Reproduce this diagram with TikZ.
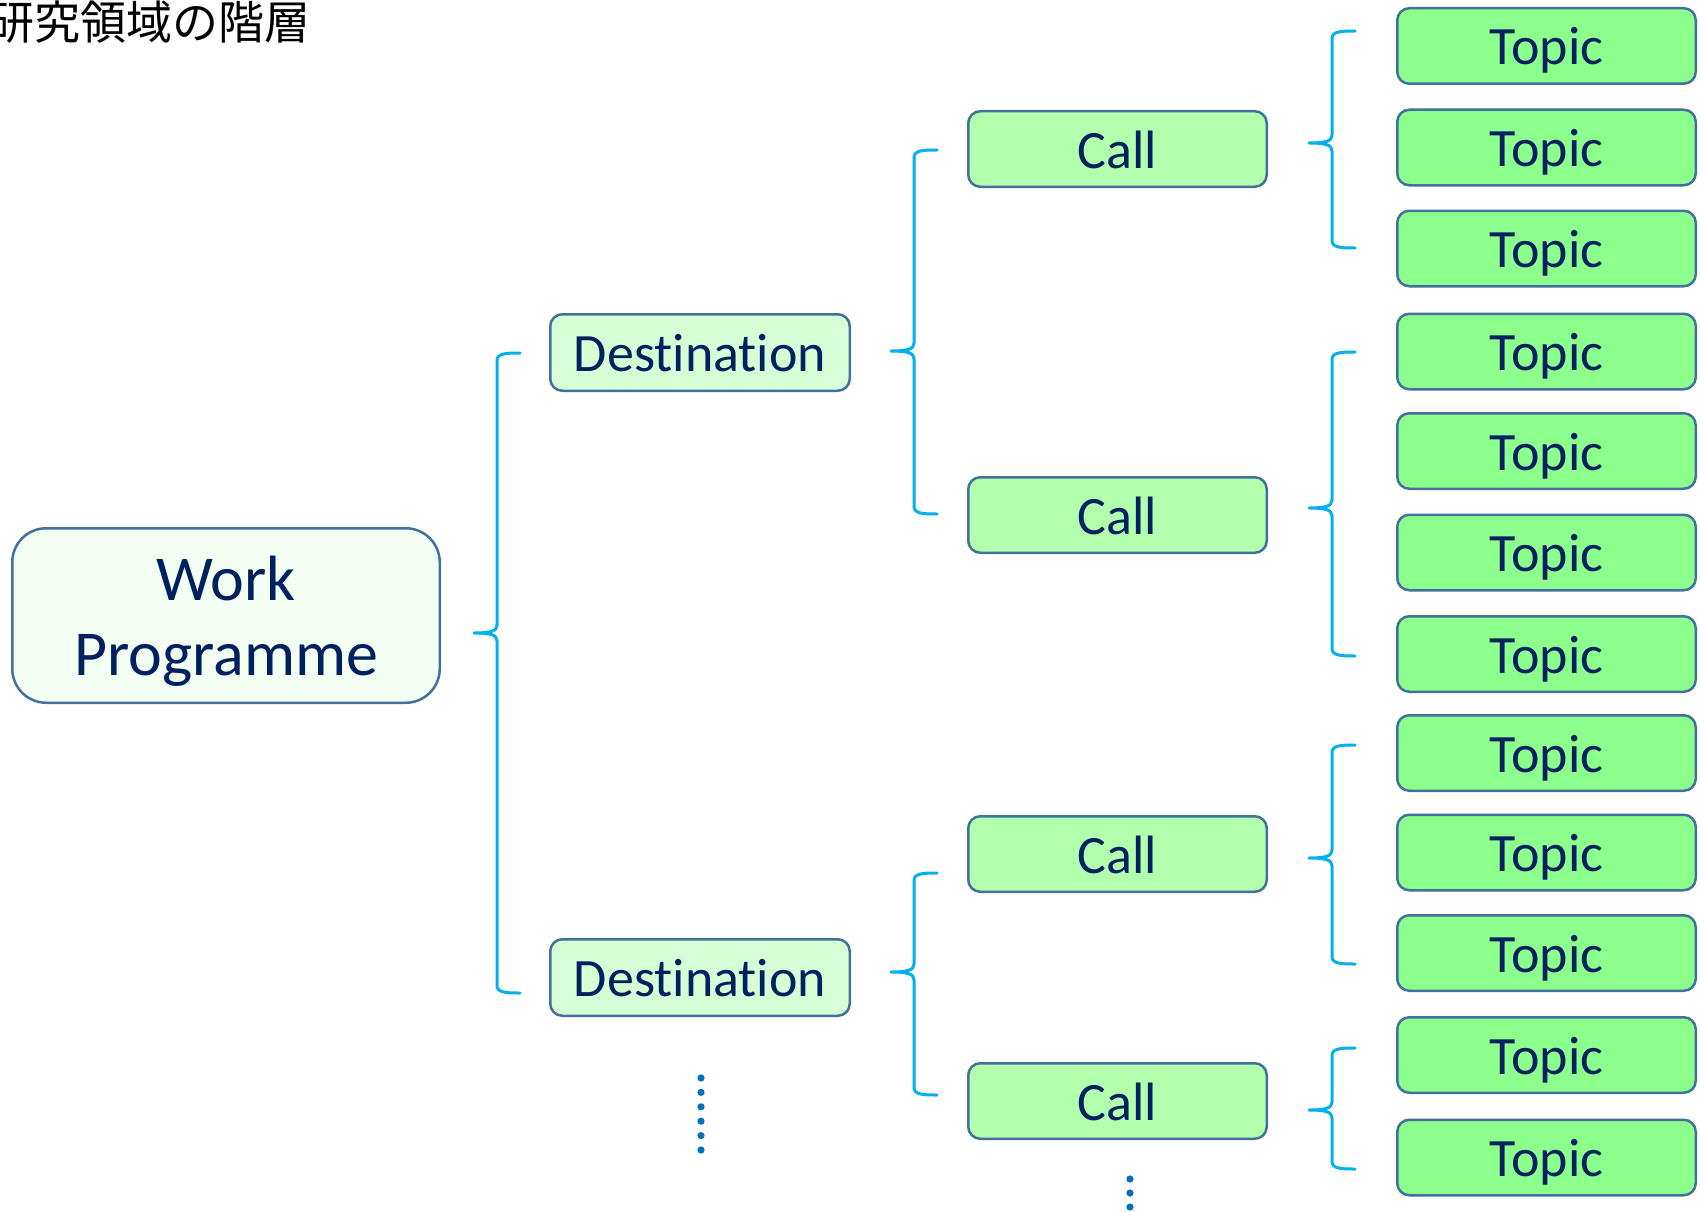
\documentclass[tikz,border=0pt]{standalone}
\usepackage{fontspec}
\setmainfont{Carlito}[Ligatures={NoCommon,NoContextual}]
\newfontfamily\jpfont{Noto Sans CJK JP}
\definecolor{boxline}{HTML}{41719C}
\definecolor{navytext}{HTML}{002060}
\definecolor{bracecol}{HTML}{00B0F0}
\definecolor{dotcol}{HTML}{0070C0}
\definecolor{wpfill}{HTML}{F2FFF2}
\definecolor{destfill}{HTML}{D6FFD6}
\definecolor{callfill}{HTML}{B2FFAE}
\definecolor{topicfill}{HTML}{8CFF8C}
\newcommand{\drawbrace}[4]{%
  \draw[bracestyle] (#1+23,#2) .. controls (#1+6,#2) and (#1,#2+1) .. (#1,#2+8)
    -- (#1,#3-8) .. controls (#1,#3-2) and (#1-6,#3) .. (#1-23,#3)
    .. controls (#1-6,#3) and (#1,#3+2) .. (#1,#3+8)
    -- (#1,#4-8) .. controls (#1,#4-1) and (#1+6,#4) .. (#1+23,#4);}
\begin{document}
\begin{tikzpicture}[x=1pt,y=-1pt,
  basebox/.style={draw=boxline, line width=2.5pt, rounded corners=12pt,
    text=navytext, inner sep=0pt, font=\fontsize{54}{64}\selectfont,
    text height=38pt, text depth=0pt},
  wpbox/.style={draw=boxline, line width=2.5pt, rounded corners=34pt,
    fill=wpfill, text=navytext, inner sep=0pt, align=center,
    minimum width=427.5pt, minimum height=174.5pt,
    font=\fontsize{64}{75.6}\selectfont},
  destbox/.style={basebox, fill=destfill, minimum width=299.5pt, minimum height=76.5pt},
  callbox/.style={basebox, fill=callfill, minimum width=298.5pt, minimum height=75.5pt},
  topicbox/.style={basebox, fill=topicfill, minimum width=298.5pt, minimum height=75.5pt},
  bracestyle/.style={draw=bracecol, line width=3pt, line cap=round, line join=round},
  titletext/.style={anchor=base west, inner sep=0pt, font=\jpfont\fontsize{46}{54}\selectfont}
]
\useasboundingbox[fill=white] (0,0) rectangle (1700,1212);

\node[titletext] (title) at (-12,40) {研究領域の階層};

\node[wpbox] (wp) at (226,615.5) {\rule{0pt}{44.7pt}\smash{Work}\\\raisebox{0pt}[\height][0pt]{Programme}};

\node[destbox] (d1) at (700,352.5) {Destination};
\node[destbox] (d2) at (700,977.5) {Destination};

\node[callbox] (c1) at (1117.5,149) {Call};
\node[callbox] (c2) at (1117.5,515) {Call};
\node[callbox] (c3) at (1117.5,854) {Call};
\node[callbox] (c4) at (1117.5,1101) {Call};

\foreach \n/\y in {1/46,2/147.5,3/248.5,4/351.5,5/451,6/552.5,7/654,8/753,9/852.5,10/953,11/1055,12/1157.5}
  \node[topicbox] (t\n) at (1546.5,\y) {Topic};

% braces: vertical x, top end, tip, bottom end
\drawbrace{497}{353}{633}{993}
\drawbrace{914}{150}{351}{514}
\drawbrace{914}{873}{972}{1095}
\drawbrace{1332}{31}{143}{248}
\drawbrace{1332}{352}{508}{656}
\drawbrace{1332}{745}{858}{964}
\drawbrace{1332}{1048}{1110}{1169}

% continuation dots
\foreach \i in {0,...,5}
  \fill[dotcol] (701,1078+14.4*\i) circle (3.6pt);
\foreach \i in {0,1,2}
  \fill[dotcol] (1130,1179+14*\i) circle (3.6pt);
\end{tikzpicture}
\end{document}
